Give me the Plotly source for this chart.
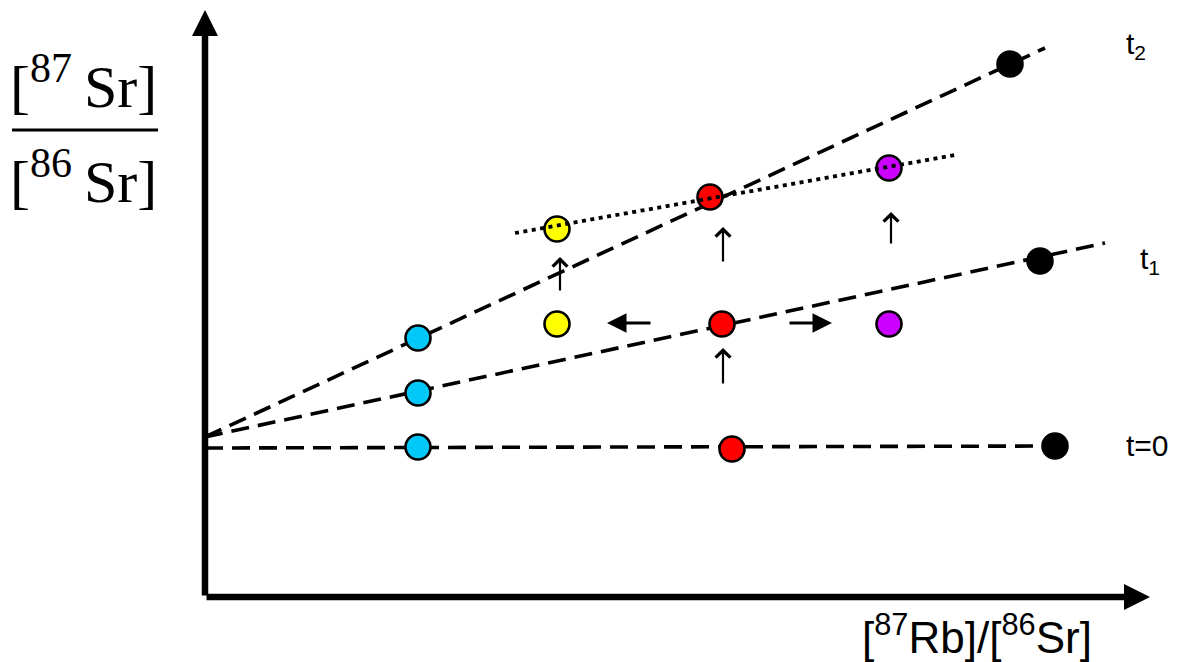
import plotly.graph_objects as go

# Schematic Rb-Sr isochron (abstract units, origin at axes corner)
# evolution lines: start (intercept) and end points
t0_line_x = [0, 850]
t0_line_y = [149, 151]
t1_line_x = [0, 900]
t1_line_y = [160, 354]
t2_line_x = [0, 840]
t2_line_y = [160, 549]

# samples on each line
cyan_x = [213, 213, 213]
cyan_y = [150, 204, 259]
red_x = [527, 517, 505]
red_y = [148, 273, 400]
yellow_x = [352, 352]
yellow_y = [273, 368]
purple_x = [684, 684]
purple_y = [273, 429]
black_x = [850, 835, 805]
black_y = [151, 336, 533]

# open-system mixing line (dotted)
mix_x = [310, 750]
mix_y = [364, 442]

# small arrows: (tail_x, tail_y, tip_x, tip_y)
up_arrows = [(355, 305, 355, 340), (518, 334, 518, 370), (686, 352, 686, 385), (518, 212, 518, 249)]
side_arrows = [(447, 274, 402, 274), (583, 274, 627, 274)]

labels = ["t<sub>2</sub>", "t<sub>1</sub>", "t=0"]
label_x = [931, 945, 942]
label_y = [552, 337, 152]

fig = go.Figure()

dash = "18px,9px"
for lx, ly in [(t0_line_x, t0_line_y), (t1_line_x, t1_line_y), (t2_line_x, t2_line_y)]:
    fig.add_trace(go.Scatter(x=lx, y=ly, mode="lines",
                             line=dict(color="black", width=3.6, dash=dash),
                             hoverinfo="skip", showlegend=False))

for xs, ys, col in [(cyan_x, cyan_y, "#00c8f8"), (red_x, red_y, "#ff0000"),
                    (yellow_x, yellow_y, "#ffff00"), (purple_x, purple_y, "#cc00ff"),
                    (black_x, black_y, "black")]:
    fig.add_trace(go.Scatter(x=xs, y=ys, mode="markers",
                             marker=dict(size=25, color=col, line=dict(color="black", width=2.6)),
                             hoverinfo="skip", showlegend=False))

fig.add_trace(go.Scatter(x=mix_x, y=mix_y, mode="lines",
                         line=dict(color="black", width=3.8, dash="4px,4.5px"),
                         hoverinfo="skip", showlegend=False))

ann = []
for (tx, ty, hx, hy) in up_arrows:
    ann.append(dict(x=hx, y=hy, ax=tx, ay=ty, xref="x", yref="y", axref="x", ayref="y",
                    showarrow=True, arrowhead=4, arrowwidth=2.2, arrowsize=1.3,
                    arrowcolor="black", text="", standoff=0))
for (tx, ty, hx, hy) in side_arrows:
    ann.append(dict(x=hx, y=hy, ax=tx, ay=ty, xref="x", yref="y", axref="x", ayref="y",
                    showarrow=True, arrowhead=2, arrowwidth=3, arrowsize=1.3,
                    arrowcolor="black", text="", standoff=0))

# axes with arrows
ann.append(dict(x=0, y=587, ax=0, ay=0, xref="x", yref="y", axref="x", ayref="y",
                showarrow=True, arrowhead=2, arrowwidth=6.5, arrowsize=0.8,
                arrowcolor="black", text="", standoff=0))
ann.append(dict(x=945, y=0, ax=0, ay=0, xref="x", yref="y", axref="x", ayref="y",
                showarrow=True, arrowhead=2, arrowwidth=6.5, arrowsize=0.8,
                arrowcolor="black", text="", standoff=0))

for t, x, y in zip(labels, label_x, label_y):
    ann.append(dict(x=x, y=y, xref="x", yref="y", text=t, showarrow=False,
                    font=dict(family="Liberation Sans, Arial", size=30, color="black")))

# axis titles
serif = "Liberation Serif, Times New Roman, serif"
ann.append(dict(x=-122, y=515, xref="x", yref="y", text="[<sup>87</sup>\u2009Sr]", showarrow=False,
                font=dict(family=serif, size=60, color="black")))
ann.append(dict(x=-122, y=420, xref="x", yref="y", text="[<sup>86</sup>\u2009Sr]", showarrow=False,
                font=dict(family=serif, size=60, color="black")))
ann.append(dict(x=772, y=-37, xref="x", yref="y", text="[<sup>87</sup>Rb]/[<sup>86</sup>Sr]",
                showarrow=False, font=dict(family="Liberation Sans, Arial", size=44, color="black")))

fig.add_shape(type="line", x0=-193, x1=-47, y0=467, y1=467, xref="x", yref="y",
              line=dict(color="black", width=3))

# the page body has an 8px margin, so the figure is 8px smaller and ranges shifted
fig.update_layout(
    width=1171, height=654,
    margin=dict(l=0, r=0, t=0, b=0),
    paper_bgcolor="white", plot_bgcolor="white",
    xaxis=dict(range=[-197, 974], visible=False, fixedrange=True),
    yaxis=dict(range=[-65, 589], visible=False, fixedrange=True),
    annotations=ann,
)

fig.write_html("out.html")
